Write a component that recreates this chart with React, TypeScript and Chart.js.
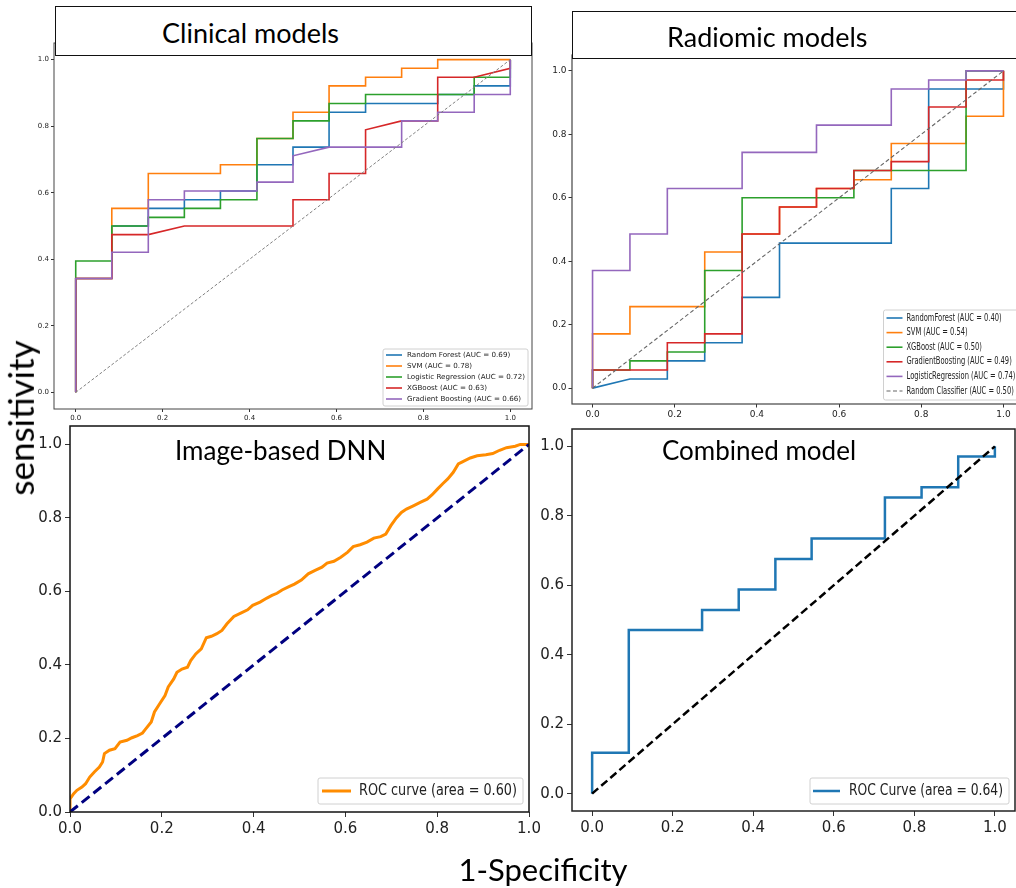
import React, { useEffect, useRef } from "react";
import { Chart, registerables } from "chart.js";

Chart.register(...registerables);

// ---------------- data ----------------
const axisTicks = [0, 0.2, 0.4, 0.6, 0.8, 1.0];
const axisTickLabels = ["0.0", "0.2", "0.4", "0.6", "0.8", "1.0"];
const diagonal = [0, 1];

// Clinical models
const clinicalRfFpr = [0, 0, 0.083, 0.083, 0.167, 0.167, 0.25, 0.25, 0.333, 0.333, 0.417, 0.417, 0.5, 0.5, 0.583, 0.583, 0.667, 0.667, 0.833, 0.833, 0.917, 0.917, 1, 1];
const clinicalRfTpr = [0, 0.342, 0.342, 0.5, 0.5, 0.553, 0.553, 0.579, 0.579, 0.605, 0.605, 0.684, 0.684, 0.737, 0.737, 0.842, 0.842, 0.868, 0.868, 0.895, 0.895, 0.921, 0.921, 1];
const clinicalSvmFpr = [0, 0, 0.083, 0.083, 0.167, 0.167, 0.333, 0.333, 0.417, 0.417, 0.5, 0.5, 0.583, 0.583, 0.667, 0.667, 0.75, 0.75, 0.833, 0.833, 1];
const clinicalSvmTpr = [0, 0.342, 0.342, 0.553, 0.553, 0.658, 0.658, 0.684, 0.684, 0.763, 0.763, 0.842, 0.842, 0.921, 0.921, 0.947, 0.947, 0.974, 0.974, 1, 1];
const clinicalLrFpr = [0, 0, 0.083, 0.083, 0.167, 0.167, 0.25, 0.25, 0.333, 0.333, 0.417, 0.417, 0.5, 0.5, 0.583, 0.583, 0.667, 0.667, 0.917, 0.917, 1, 1];
const clinicalLrTpr = [0, 0.395, 0.395, 0.5, 0.5, 0.526, 0.526, 0.553, 0.553, 0.579, 0.579, 0.763, 0.763, 0.816, 0.816, 0.868, 0.868, 0.895, 0.895, 0.947, 0.947, 1];
const clinicalXgbFpr = [0, 0, 0.083, 0.083, 0.167, 0.25, 0.5, 0.5, 0.583, 0.583, 0.667, 0.667, 0.75, 0.833, 0.833, 0.917, 1, 1];
const clinicalXgbTpr = [0, 0.342, 0.342, 0.474, 0.474, 0.5, 0.5, 0.579, 0.579, 0.658, 0.658, 0.789, 0.816, 0.816, 0.947, 0.947, 0.974, 1];
const clinicalGbFpr = [0, 0, 0.083, 0.083, 0.167, 0.167, 0.25, 0.25, 0.417, 0.417, 0.5, 0.5, 0.583, 0.75, 0.75, 0.833, 0.833, 0.917, 0.917, 1, 1];
const clinicalGbTpr = [0, 0.342, 0.342, 0.421, 0.421, 0.579, 0.579, 0.605, 0.605, 0.632, 0.632, 0.711, 0.737, 0.737, 0.816, 0.816, 0.842, 0.842, 0.895, 0.895, 1];
const clinicalLabels = [
  "Random Forest (AUC = 0.69)",
  "SVM (AUC = 0.78)",
  "Logistic Regression (AUC = 0.72)",
  "XGBoost (AUC = 0.63)",
  "Gradient Boosting (AUC = 0.66)",
];

// Radiomic models
const radRfFpr = [0, 0.091, 0.182, 0.182, 0.273, 0.273, 0.364, 0.364, 0.455, 0.455, 0.727, 0.727, 0.818, 0.818, 1, 1];
const radRfTpr = [0, 0.029, 0.029, 0.086, 0.086, 0.143, 0.143, 0.286, 0.286, 0.457, 0.457, 0.629, 0.629, 0.943, 0.943, 1];
const radSvmFpr = [0, 0, 0.091, 0.091, 0.273, 0.273, 0.364, 0.364, 0.455, 0.455, 0.545, 0.545, 0.636, 0.636, 0.727, 0.727, 0.909, 0.909, 1, 1];
const radSvmTpr = [0, 0.171, 0.171, 0.257, 0.257, 0.429, 0.429, 0.486, 0.486, 0.571, 0.571, 0.629, 0.629, 0.657, 0.657, 0.771, 0.771, 0.857, 0.857, 1];
const radXgbFpr = [0, 0, 0.091, 0.091, 0.182, 0.182, 0.273, 0.273, 0.364, 0.364, 0.636, 0.636, 0.909, 0.909, 1];
const radXgbTpr = [0, 0.057, 0.057, 0.086, 0.086, 0.114, 0.114, 0.371, 0.371, 0.6, 0.6, 0.686, 0.686, 1, 1];
const radGbFpr = [0, 0, 0.182, 0.182, 0.273, 0.273, 0.364, 0.364, 0.455, 0.455, 0.545, 0.545, 0.636, 0.636, 0.727, 0.727, 0.818, 0.818, 0.909, 0.909, 1, 1];
const radGbTpr = [0, 0.057, 0.057, 0.143, 0.143, 0.171, 0.171, 0.486, 0.486, 0.571, 0.571, 0.629, 0.629, 0.686, 0.686, 0.714, 0.714, 0.886, 0.886, 0.971, 0.971, 1];
const radLrFpr = [0, 0, 0.091, 0.091, 0.182, 0.182, 0.364, 0.364, 0.545, 0.545, 0.727, 0.727, 0.818, 0.818, 0.909, 0.909, 1];
const radLrTpr = [0, 0.371, 0.371, 0.486, 0.486, 0.629, 0.629, 0.743, 0.743, 0.829, 0.829, 0.943, 0.943, 0.971, 0.971, 1, 1];
const radiomicLabels = [
  "RandomForest (AUC = 0.40)",
  "SVM (AUC = 0.54)",
  "XGBoost (AUC = 0.50)",
  "GradientBoosting (AUC = 0.49)",
  "LogisticRegression (AUC = 0.74)",
  "Random Classifier (AUC = 0.50)",
];

// Image-based DNN
const dnnFpr = [0, 0, 0.008, 0.015, 0.026, 0.034, 0.043, 0.053, 0.064, 0.071, 0.075, 0.086, 0.098, 0.109, 0.124, 0.135, 0.147, 0.158, 0.165, 0.177, 0.184, 0.195, 0.207, 0.214, 0.226, 0.233, 0.244, 0.256, 0.263, 0.274, 0.286, 0.297, 0.308, 0.32, 0.331, 0.342, 0.357, 0.372, 0.387, 0.398, 0.414, 0.429, 0.44, 0.451, 0.462, 0.477, 0.489, 0.504, 0.519, 0.534, 0.549, 0.56, 0.575, 0.59, 0.605, 0.617, 0.632, 0.647, 0.662, 0.677, 0.688, 0.699, 0.711, 0.722, 0.733, 0.748, 0.763, 0.778, 0.789, 0.801, 0.812, 0.823, 0.835, 0.846, 0.857, 0.872, 0.887, 0.906, 0.921, 0.936, 0.951, 0.97, 0.981, 1];
const dnnTpr = [0, 0.036, 0.05, 0.059, 0.068, 0.077, 0.095, 0.109, 0.122, 0.136, 0.159, 0.168, 0.172, 0.19, 0.195, 0.202, 0.208, 0.215, 0.226, 0.245, 0.272, 0.294, 0.317, 0.34, 0.362, 0.38, 0.389, 0.394, 0.412, 0.43, 0.444, 0.474, 0.478, 0.485, 0.494, 0.512, 0.532, 0.541, 0.55, 0.562, 0.571, 0.582, 0.589, 0.595, 0.604, 0.613, 0.62, 0.631, 0.648, 0.657, 0.666, 0.677, 0.682, 0.693, 0.707, 0.722, 0.727, 0.734, 0.745, 0.749, 0.756, 0.779, 0.8, 0.815, 0.824, 0.833, 0.842, 0.851, 0.863, 0.879, 0.893, 0.906, 0.924, 0.947, 0.954, 0.963, 0.969, 0.972, 0.975, 0.984, 0.991, 0.995, 1, 1];
const dnnLabel = "ROC curve (area = 0.60)";

// Combined model
const combinedFpr = [0, 0, 0.091, 0.091, 0.273, 0.273, 0.364, 0.364, 0.455, 0.455, 0.545, 0.545, 0.727, 0.727, 0.818, 0.818, 0.909, 0.909, 1, 1];
const combinedTpr = [0, 0.118, 0.118, 0.471, 0.471, 0.529, 0.529, 0.588, 0.588, 0.676, 0.676, 0.735, 0.735, 0.853, 0.853, 0.882, 0.882, 0.971, 0.971, 1];
const combinedLabel = "ROC Curve (area = 0.64)";

// ---------------- helpers ----------------
const P = 16;
const TAB = ["#1f77b4", "#ff7f0e", "#2ca02c", "#d62728", "#9467bd"];

type Frame = { l: number; t: number; r: number; b: number };
interface Series { fpr: number[]; tpr: number[]; color: string; width: number; dash?: number[]; label?: string }
interface LegendSpec {
  right: number; bottom: number; width: number; height: number;
  firstRow: number; rowGap: number; handleX0: number; handleX1: number; textX: number;
  fontSize: number; textWidth: number; handleScale: number;
}

function toDatasets(series: Series[]) {
  const n = series.length;
  return series.map((s, i) => ({
    label: s.label ?? "",
    data: s.fpr.map((x, j) => ({ x, y: s.tpr[j] })),
    borderColor: s.color,
    borderWidth: s.width,
    borderDash: s.dash ?? [],
    pointRadius: 0,
    pointHoverRadius: 0,
    fill: false,
    tension: 0,
    order: n - i,
  }));
}

function framePlugin(color: string, width: number) {
  return {
    id: "frameBox",
    afterDatasetsDraw(chart: any) {
      const { ctx, chartArea: a } = chart;
      ctx.save();
      ctx.strokeStyle = color;
      ctx.lineWidth = width;
      ctx.strokeRect(a.left, a.top, a.right - a.left, a.bottom - a.top);
      ctx.restore();
    },
  };
}

function legendPlugin(series: Series[], spec: LegendSpec) {
  return {
    id: "boxLegend",
    afterDraw(chart: any) {
      const { ctx, chartArea } = chart;
      const items = series.filter((s) => s.label);
      const bx = chartArea.right - spec.right - spec.width;
      const by = chartArea.bottom - spec.bottom - spec.height;
      ctx.save();
      ctx.beginPath();
      const r = 2;
      ctx.moveTo(bx + r, by);
      ctx.arcTo(bx + spec.width, by, bx + spec.width, by + spec.height, r);
      ctx.arcTo(bx + spec.width, by + spec.height, bx, by + spec.height, r);
      ctx.arcTo(bx, by + spec.height, bx, by, r);
      ctx.arcTo(bx, by, bx + spec.width, by, r);
      ctx.closePath();
      ctx.fillStyle = "rgba(255,255,255,0.85)";
      ctx.fill();
      ctx.strokeStyle = "#d0d0d0";
      ctx.lineWidth = 1;
      ctx.stroke();
      ctx.font = `${spec.fontSize}px 'DejaVu Sans', sans-serif`;
      const maxW = Math.max(...items.map((it) => ctx.measureText(it.label as string).width));
      const sx = spec.textWidth / maxW;
      items.forEach((it, i) => {
        const cy = by + spec.firstRow + i * spec.rowGap;
        ctx.strokeStyle = it.color;
        ctx.lineWidth = it.width * spec.handleScale;
        ctx.setLineDash(it.dash ?? []);
        ctx.beginPath();
        ctx.moveTo(bx + spec.handleX0, cy);
        ctx.lineTo(bx + spec.handleX1, cy);
        ctx.stroke();
        ctx.setLineDash([]);
        ctx.save();
        ctx.translate(bx + spec.textX, cy);
        ctx.scale(sx, 1);
        ctx.fillStyle = "#222";
        ctx.textBaseline = "middle";
        ctx.textAlign = "left";
        ctx.fillText(it.label as string, 0, 0);
        ctx.restore();
      });
      ctx.restore();
    },
  };
}

function makeAxis(min: number, max: number, fontSize: number, tickLen: number, pad: number, size: number, isY: boolean) {
  return {
    type: "linear",
    min,
    max,
    afterBuildTicks: (s: any) => {
      s.ticks = axisTicks.map((value) => ({ value }));
    },
    afterFit: (s: any) => {
      if (isY) s.width = size;
      else s.height = size;
    },
    ticks: {
      callback: (v: number) => axisTickLabels[axisTicks.indexOf(v)] ?? "",
      font: { family: "'DejaVu Sans', sans-serif", size: fontSize },
      color: "#222",
      padding: pad,
      maxRotation: 0,
      autoSkip: false,
      includeBounds: false,
    },
    grid: { display: true, drawOnChartArea: false, drawTicks: true, tickLength: tickLen, color: "#333", lineWidth: 1 },
    border: { display: false },
  };
}

interface PanelSpec {
  frame: Frame; yw: number; xh: number;
  xRange: [number, number]; yRange: [number, number];
  tickFont: number; tickLen: number; tickPad: number;
  frameColor: string; frameWidth: number;
  series: Series[]; legend: LegendSpec;
}

function ChartPanel({ spec }: { spec: PanelSpec }) {
  const ref = useRef<HTMLCanvasElement>(null);
  const { frame, yw, xh } = spec;
  const left = frame.l - P - yw;
  const top = frame.t - P;
  const w = Math.round(frame.r - frame.l + 2 * P + yw);
  const h = Math.round(frame.b - frame.t + 2 * P + xh);
  useEffect(() => {
    const chart = new Chart(ref.current as HTMLCanvasElement, {
      type: "line",
      data: { datasets: toDatasets(spec.series) as any },
      options: {
        responsive: false,
        animation: false,
        devicePixelRatio: 1,
        events: [],
        layout: { padding: P },
        plugins: { legend: { display: false }, tooltip: { enabled: false }, title: { display: false } },
        scales: {
          x: makeAxis(spec.xRange[0], spec.xRange[1], spec.tickFont, spec.tickLen, spec.tickPad, xh, false) as any,
          y: makeAxis(spec.yRange[0], spec.yRange[1], spec.tickFont, spec.tickLen, spec.tickPad, yw, true) as any,
        },
      },
      plugins: [framePlugin(spec.frameColor, spec.frameWidth), legendPlugin(spec.series, spec.legend)],
    });
    return () => chart.destroy();
  }, []);
  return (
    <canvas
      ref={ref}
      width={w}
      height={h}
      style={{ position: "absolute", left, top, width: w, height: h, display: "block" }}
    />
  );
}

// ---------------- panels ----------------
const clinicalPanel: PanelSpec = {
  frame: { l: 54, t: 43, r: 532, b: 409 }, yw: 24, xh: 16,
  xRange: [-0.05, 1.05], yRange: [-0.05, 1.05],
  tickFont: 7, tickLen: 3, tickPad: 2, frameColor: "#444", frameWidth: 1,
  series: [
    { fpr: clinicalRfFpr, tpr: clinicalRfTpr, color: TAB[0], width: 1.6, label: clinicalLabels[0] },
    { fpr: clinicalSvmFpr, tpr: clinicalSvmTpr, color: TAB[1], width: 1.6, label: clinicalLabels[1] },
    { fpr: clinicalLrFpr, tpr: clinicalLrTpr, color: TAB[2], width: 1.6, label: clinicalLabels[2] },
    { fpr: clinicalXgbFpr, tpr: clinicalXgbTpr, color: TAB[3], width: 1.6, label: clinicalLabels[3] },
    { fpr: clinicalGbFpr, tpr: clinicalGbTpr, color: TAB[4], width: 1.6, label: clinicalLabels[4] },
    { fpr: diagonal, tpr: diagonal, color: "#808080", width: 1, dash: [3, 2] },
  ],
  legend: { right: 4, bottom: 3, width: 145, height: 57, firstRow: 6, rowGap: 11, handleX0: 3, handleX1: 19, textX: 24, fontSize: 7, textWidth: 118, handleScale: 1 },
};

const radiomicPanel: PanelSpec = {
  frame: { l: 572, t: 55, r: 1023.5, b: 404 }, yw: 30, xh: 20,
  xRange: [-0.05, 1.05], yRange: [-0.05, 1.05],
  tickFont: 9, tickLen: 3.5, tickPad: 2, frameColor: "#444", frameWidth: 1.2,
  series: [
    { fpr: radRfFpr, tpr: radRfTpr, color: TAB[0], width: 1.6, label: radiomicLabels[0] },
    { fpr: radSvmFpr, tpr: radSvmTpr, color: TAB[1], width: 1.6, label: radiomicLabels[1] },
    { fpr: radXgbFpr, tpr: radXgbTpr, color: TAB[2], width: 1.6, label: radiomicLabels[2] },
    { fpr: radGbFpr, tpr: radGbTpr, color: TAB[3], width: 1.6, label: radiomicLabels[3] },
    { fpr: radLrFpr, tpr: radLrTpr, color: TAB[4], width: 1.6, label: radiomicLabels[4] },
    { fpr: diagonal, tpr: diagonal, color: "#666", width: 1.1, dash: [4, 2.5], label: radiomicLabels[5] },
  ],
  legend: { right: 3.5, bottom: 4, width: 137, height: 90, firstRow: 8, rowGap: 14.6, handleX0: 3, handleX1: 19, textX: 23, fontSize: 10, textWidth: 109, handleScale: 1 },
};

const dnnPanel: PanelSpec = {
  frame: { l: 70, t: 426, r: 529, b: 812 }, yw: 40, xh: 28,
  xRange: [0, 1], yRange: [0, 1.05],
  tickFont: 15, tickLen: 5, tickPad: 3, frameColor: "#111", frameWidth: 1.5,
  series: [
    { fpr: dnnFpr, tpr: dnnTpr, color: "#ff8c00", width: 3, label: dnnLabel },
    { fpr: diagonal, tpr: diagonal, color: "#000080", width: 3, dash: [10, 5] },
  ],
  legend: { right: 6, bottom: 8, width: 205, height: 26, firstRow: 13, rowGap: 0, handleX0: 4, handleX1: 33, textX: 41, fontSize: 15, textWidth: 158, handleScale: 1 },
};

const combinedPanel: PanelSpec = {
  frame: { l: 572, t: 429, r: 1015, b: 811 }, yw: 40, xh: 28,
  xRange: [-0.05, 1.05], yRange: [-0.05, 1.05],
  tickFont: 15, tickLen: 5, tickPad: 3, frameColor: "#222", frameWidth: 1.5,
  series: [
    { fpr: combinedFpr, tpr: combinedTpr, color: "#1f77b4", width: 2.5, label: combinedLabel },
    { fpr: diagonal, tpr: diagonal, color: "#000", width: 2.5, dash: [8, 4] },
  ],
  legend: { right: 6, bottom: 7, width: 199, height: 26, firstRow: 13, rowGap: 0, handleX0: 3, handleX1: 30, textX: 39, fontSize: 15, textWidth: 154, handleScale: 1 },
};

const TITLE_FONT = "Lato, 'Open Sans', sans-serif";

function Text({ x, y, size, children, center, rotate }: { x: number; y: number; size: number; children: React.ReactNode; center?: boolean; rotate?: boolean }) {
  const transform = rotate
    ? "translate(-50%, -50%) rotate(-90deg)"
    : center
    ? "translate(-50%, -50%)"
    : "translateY(-50%)";
  return (
    <div
      style={{
        position: "absolute",
        left: x,
        top: y,
        transform,
        fontFamily: TITLE_FONT,
        fontSize: size,
        lineHeight: 1.15,
        whiteSpace: "nowrap",
        color: "#000",
        zIndex: 3,
      }}
    >
      {children}
    </div>
  );
}

export default function App() {
  return (
    <div
      style={{
        position: "fixed",
        left: 0,
        top: 0,
        width: 1016,
        height: 888,
        overflow: "hidden",
        background: "#fff",
      }}
    >
      <ChartPanel spec={clinicalPanel} />
      <ChartPanel spec={radiomicPanel} />
      <ChartPanel spec={dnnPanel} />
      <ChartPanel spec={combinedPanel} />

      <div style={{ position: "absolute", left: 55, top: 6, width: 477, height: 50, boxSizing: "border-box", border: "1.5px solid #111", background: "#fff", zIndex: 2 }} />
      <div style={{ position: "absolute", left: 572, top: 11, width: 470, height: 48, boxSizing: "border-box", border: "1.5px solid #111", background: "#fff", zIndex: 2 }} />

      <Text x={162} y={33} size={27}>Clinical models</Text>
      <Text x={667} y={37} size={27}>Radiomic models</Text>
      <Text x={175} y={451} size={26}>Image-based DNN</Text>
      <Text x={662} y={451} size={26}>Combined model</Text>
      <Text x={20} y={418} size={35} rotate>sensitivity</Text>
      <Text x={543} y={870} size={31} center>1-Specificity</Text>
    </div>
  );
}
